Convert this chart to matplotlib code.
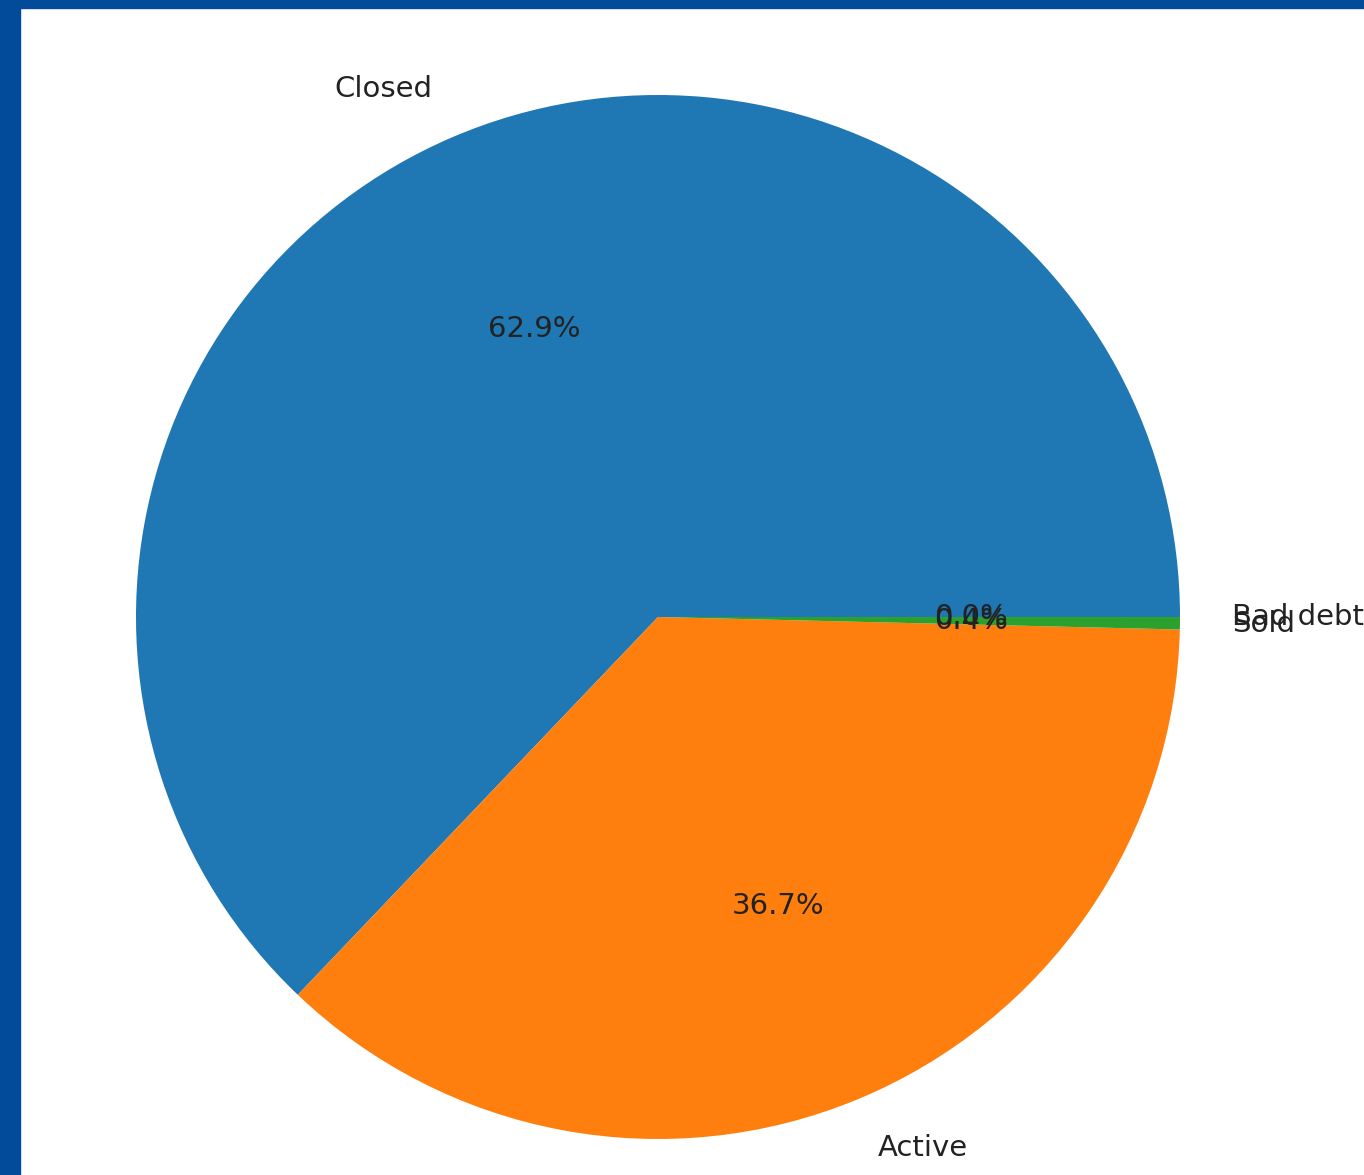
import matplotlib
matplotlib.use("Agg")
import matplotlib.pyplot as plt
from matplotlib.patches import Rectangle

# CREDIT_ACTIVE counts
labels = ["Closed", "Active", "Sold", "Bad debt"]
counts = [1079273, 630607, 6527, 21]

W, H = 1364, 1175
cx, cy, r = 658, 617, 522  # pie centre / radius in pixels

fig = plt.figure(figsize=(W / 100, H / 100), dpi=100)
ax = fig.add_axes([0, 0, 1, 1])
ax.pie(counts, labels=labels, autopct="%1.1f%%",
       textprops={"fontsize": 21, "color": "#222222"})
ax.set_aspect("auto")
ax.set_xlim(-cx / r, (W - cx) / r)
ax.set_ylim(-(H - cy) / r, cy / r)
ax.axis("off")

# blue frame from the screenshot
blue = "#024a9a"
fig.patches.append(Rectangle((0, 0), 20 / W, 1, transform=fig.transFigure,
                             color=blue, zorder=10))
fig.patches.append(Rectangle((0, 1 - 8 / H), 1, 8 / H, transform=fig.transFigure,
                             color=blue, zorder=10))

fig.savefig("out.png", dpi=100)
